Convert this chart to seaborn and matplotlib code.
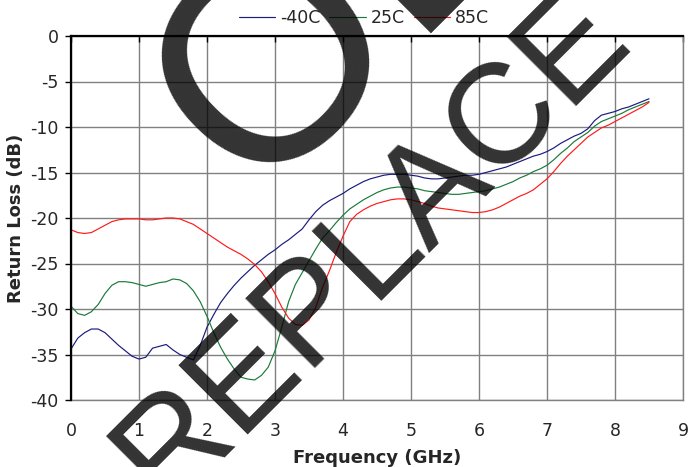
import matplotlib
matplotlib.use("Agg")
import matplotlib.pyplot as plt
import numpy as np
import pandas as pd
import seaborn as sns
from matplotlib.textpath import TextPath
from matplotlib.font_manager import FontProperties

# ---------------- data ----------------
freq_ghz = [0.0, 0.1, 0.2, 0.3, 0.4, 0.5, 0.6, 0.7, 0.8, 0.9,
            1.0, 1.1, 1.2, 1.3, 1.4, 1.5, 1.6, 1.7, 1.8, 1.9,
            2.0, 2.1, 2.2, 2.3, 2.4, 2.5, 2.6, 2.7, 2.8, 2.9,
            3.0, 3.1, 3.2, 3.3, 3.4, 3.5, 3.6, 3.7, 3.8, 3.9,
            4.0, 4.1, 4.2, 4.3, 4.4, 4.5, 4.6, 4.7, 4.8, 4.9,
            5.0, 5.1, 5.2, 5.3, 5.4, 5.5, 5.6, 5.7, 5.8, 5.9,
            6.0, 6.1, 6.2, 6.3, 6.4, 6.5, 6.6, 6.7, 6.8, 6.9,
            7.0, 7.1, 7.2, 7.3, 7.4, 7.5, 7.6, 7.7, 7.8, 7.9,
            8.0, 8.1, 8.2, 8.3, 8.4, 8.5]

rl_m40c = [-34.4, -33.2, -32.6, -32.2, -32.2, -32.6, -33.3, -34.0, -34.6, -35.2,
           -35.5, -35.3, -34.3, -34.1, -33.9, -34.5, -35.0, -35.3, -35.6, -34.0,
           -32.0, -30.6, -29.3, -28.3, -27.4, -26.6, -25.9, -25.2, -24.6, -24.0,
           -23.5, -22.9, -22.4, -21.8, -21.2, -20.2, -19.3, -18.6, -18.1, -17.7,
           -17.3, -16.8, -16.4, -16.0, -15.7, -15.5, -15.3, -15.2, -15.2, -15.2,
           -15.3, -15.4, -15.6, -15.7, -15.7, -15.6, -15.5, -15.4, -15.3, -15.3,
           -15.2, -15.0, -14.8, -14.6, -14.4, -14.1, -13.8, -13.5, -13.2, -13.0,
           -12.7, -12.3, -11.8, -11.4, -11.0, -10.7, -10.2, -9.3, -8.7, -8.5,
           -8.3, -8.0, -7.8, -7.5, -7.2, -6.9]

rl_25c = [-29.7, -30.5, -30.7, -30.3, -29.5, -28.3, -27.4, -27.0, -27.0, -27.1,
          -27.3, -27.5, -27.3, -27.1, -27.0, -26.7, -26.8, -27.2, -28.0, -29.2,
          -30.8, -32.6, -34.2, -35.5, -36.6, -37.5, -37.7, -37.8, -37.3, -36.4,
          -34.6, -32.0, -29.2, -27.3, -26.0, -24.7, -23.4, -22.2, -21.4, -20.5,
          -19.7, -19.0, -18.5, -18.0, -17.6, -17.2, -16.9, -16.7, -16.6, -16.6,
          -16.7, -16.8, -17.0, -17.1, -17.2, -17.3, -17.4, -17.4, -17.3, -17.2,
          -17.1, -17.0, -16.8, -16.6, -16.3, -16.0, -15.6, -15.3, -14.9, -14.6,
          -14.2, -13.6, -12.9, -12.3, -11.6, -11.1, -10.6, -9.9, -9.4, -9.1,
          -8.8, -8.5, -8.1, -7.8, -7.5, -7.2]

rl_85c = [-21.3, -21.6, -21.7, -21.6, -21.2, -20.8, -20.4, -20.2, -20.1, -20.1,
          -20.1, -20.2, -20.2, -20.1, -20.0, -20.0, -20.1, -20.4, -20.7, -21.2,
          -21.7, -22.2, -22.7, -23.2, -23.6, -24.0, -24.5, -25.1, -25.9, -27.0,
          -28.3, -29.8, -31.0, -31.7, -31.8, -31.2, -29.8, -27.6, -25.8, -23.8,
          -22.0, -20.4, -19.6, -19.1, -18.7, -18.4, -18.2, -18.0, -17.9, -17.9,
          -18.0, -18.2, -18.4, -18.7, -18.9, -19.0, -19.1, -19.2, -19.3, -19.4,
          -19.4, -19.3, -19.1, -18.8, -18.4, -18.0, -17.6, -17.3, -16.9, -16.3,
          -15.7, -14.9, -14.0, -13.2, -12.5, -11.8, -11.1, -10.6, -10.1, -9.8,
          -9.4, -9.0, -8.6, -8.2, -7.8, -7.3]

series_names = ["-40C", "25C", "85C"]
x_ticks = [0, 1, 2, 3, 4, 5, 6, 7, 8, 9]
y_ticks = [-40, -35, -30, -25, -20, -15, -10, -5, 0]
x_label = "Frequency (GHz)"
y_label = "Return Loss (dB)"
watermark_top = "OBSOLETE"
watermark_main = "REPLACE"

# ---------------- build long table ----------------
frames = []
for name, vals in zip(series_names, [rl_m40c, rl_25c, rl_85c]):
    frames.append(pd.DataFrame({"freq": freq_ghz, "rl": vals, "temp": name}))
df = pd.concat(frames, ignore_index=True)

palette = {"-40C": "#1a1a80", "25C": "#1a7a3a", "85C": "#ff1a1a"}

sns.set_style("white")
plt.rcParams["font.family"] = ["DejaVu Sans"]
plt.rcParams["axes.unicode_minus"] = False

W, H, DPI = 688, 467, 100
fig = plt.figure(figsize=(W / DPI, H / DPI), dpi=DPI)
ax = fig.add_axes([71 / W, 1 - 400 / H, 612 / W, 364 / H])

sns.lineplot(data=df, x="freq", y="rl", hue="temp", palette=palette,
             hue_order=series_names, linewidth=0.85, ax=ax, sort=False,
             estimator=None, zorder=3)

ax.set_xlim(0, 9)
ax.set_ylim(-40, 0)
ax.set_xticks(x_ticks)
ax.set_yticks(y_ticks)
ax.set_xticklabels([str(v) for v in x_ticks], fontsize=12.5)
ax.set_yticklabels([str(v) for v in y_ticks], fontsize=12.5)

ax.grid(True, color="#808080", linewidth=1.0)
ax.set_axisbelow(True)

for side in ["right", "bottom"]:
    ax.spines[side].set_color("#808080")
    ax.spines[side].set_linewidth(1.0)
for side in ["left", "top"]:
    ax.spines[side].set_color("black")
    ax.spines[side].set_linewidth(1.6)
    ax.spines[side].set_zorder(4)

ax.tick_params(axis="x", bottom=False, top=True, direction="in", length=4,
               width=1.0, color="black", labelbottom=True, labeltop=False,
               pad=16)
ax.tick_params(axis="y", left=True, direction="out", length=4, width=1.0,
               color="black", pad=5)

ax.set_xlabel(x_label, fontsize=13, fontweight="bold", labelpad=6)
ax.set_ylabel(y_label, fontsize=13, fontweight="bold", labelpad=4)

handles, labels = ax.get_legend_handles_labels()
ax.legend(handles, labels, loc="center", bbox_to_anchor=(364 / W, 1 - 18 / H),
          bbox_transform=fig.transFigure, ncol=3, frameon=False,
          handlelength=2.1, handletextpad=0.3, columnspacing=0.5,
          fontsize=12.5, borderaxespad=0)

# ---------------- watermark ----------------
WM_FONT = "Liberation Sans"


def rotated_outline(s, size):
    """Glyph outline of s (pixels, y up) rotated by 45 degrees about its origin."""
    fp = FontProperties(family=WM_FONT, size=size)
    tp = TextPath((0, 0), s, prop=fp)
    pts = np.concatenate(tp.to_polygons()) * (DPI / 72.0)
    c = np.sqrt(0.5)
    xr = (pts[:, 0] - pts[:, 1]) * c
    yr = (pts[:, 0] + pts[:, 1]) * c
    return xr, yr


# first letter of the big upper word: its outer edge spans x 158..365 px,
# lowest point at y = 152 px in the reference
ref_size = 200.0
xr, yr = rotated_outline(watermark_top[0], ref_size)
top_size = ref_size * (365 - 158) / (xr.max() - xr.min())
xr, yr = rotated_outline(watermark_top[0], top_size)
ox = 158 - xr.min()
oy = (H - 152) - yr.min()
fig.text(ox / W, oy / H, watermark_top, rotation=45,
         rotation_mode="anchor", ha="left", va="baseline",
         fontsize=top_size, family=WM_FONT, color="black", alpha=0.8,
         zorder=10)

# lower word: left edge near x = 103 px, right edge near x = 628 px
main_size = 102.0
xr, yr = rotated_outline(watermark_main, main_size)
ox2 = (103 + 628) / 2 - (xr.min() + xr.max()) / 2
oy2 = H - 506
fig.text(ox2 / W, oy2 / H, watermark_main, rotation=45,
         rotation_mode="anchor", ha="left", va="baseline",
         fontsize=main_size, family=WM_FONT, color="black", alpha=0.8,
         zorder=10)

fig.savefig("out.png", dpi=DPI)
